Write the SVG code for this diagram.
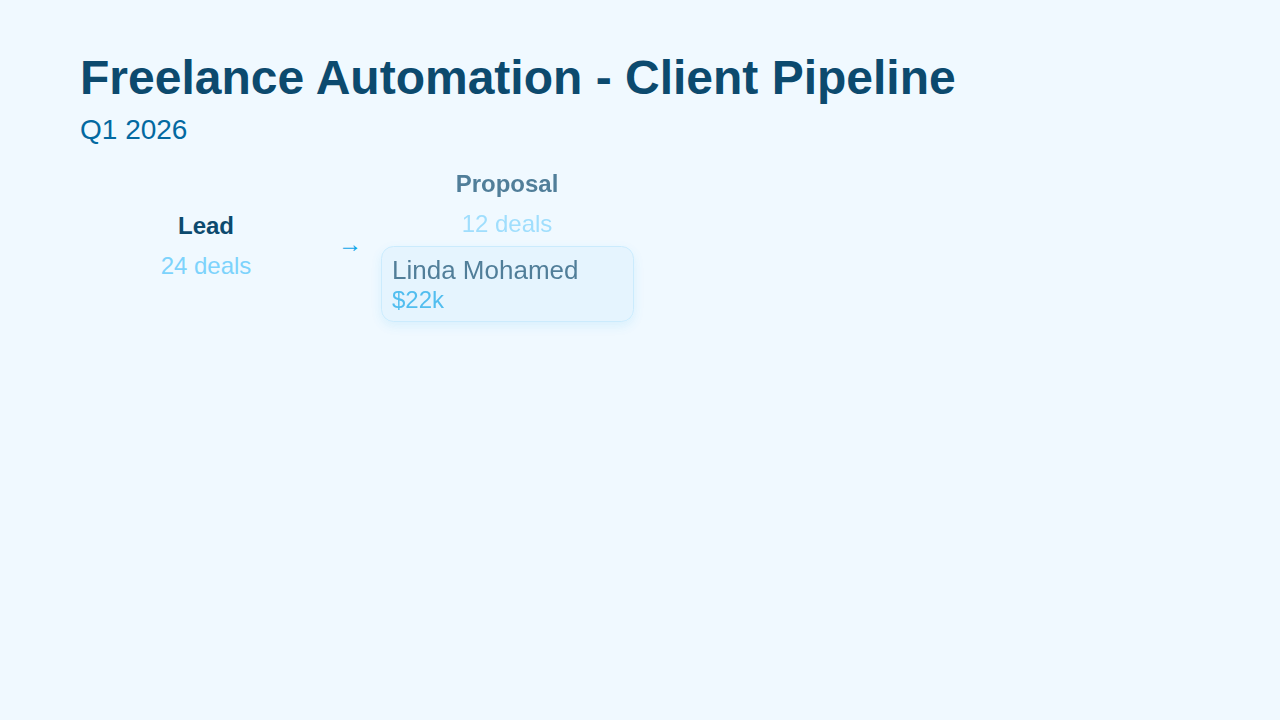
<svg xmlns="http://www.w3.org/2000/svg" width="1280" height="720" viewBox="0 0 1280 720">
<defs>
<filter id="shadow" x="-20%" y="-40%" width="140%" height="180%">
<feDropShadow dx="0" dy="4" stdDeviation="6" flood-color="#0ea5e9" flood-opacity="0.15"/>
</filter>
<style>
text{font-family:"Liberation Sans",Arial,sans-serif}
.title{font-size:48px;font-weight:bold;fill:#0c4a6e}
.sub{font-size:28px;fill:#0369a1}
.stage{font-size:24px;font-weight:bold;fill:#0c4a6e;text-anchor:middle}
.count{font-size:24px;fill:#7dd3fc;text-anchor:middle}
.name{font-size:26px;fill:#0c4a6e}
.val{font-size:24px;fill:#0ea5e9}
</style>
</defs>
<rect width="1280" height="720" fill="#f0f9ff"/>
<text class="title" x="80" y="94">Freelance Automation - Client Pipeline</text>
<text class="sub" x="80" y="139">Q1 2026</text>
<g id="lead">
<text class="stage" x="206" y="234">Lead</text>
<text class="count" x="206" y="274">24 deals</text>
</g>
<g id="connectors">
<text x="350" y="252" font-size="24" fill="#0ea5e9" text-anchor="middle">→</text>
</g>
<g id="proposal" opacity="0.7">
<text class="stage" x="507" y="192">Proposal</text>
<text class="count" x="507" y="232">12 deals</text>
<rect x="381.5" y="246.5" width="252" height="75" rx="12" fill="#e0f2fe" stroke="#bae6fd" filter="url(#shadow)"/>
<text class="name" x="392" y="279">Linda Mohamed</text>
<text class="val" x="392" y="308">$22k</text>
</g>
</svg>
